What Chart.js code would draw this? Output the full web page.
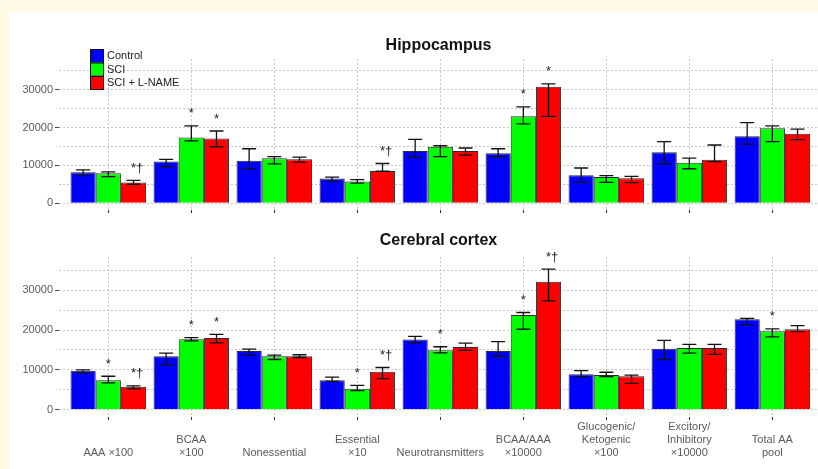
<!DOCTYPE html>
<html>
<head>
<meta charset="utf-8">
<script src="https://cdn.jsdelivr.net/npm/chart.js@4"></script>
<style>
    body { margin: 0; background: #fefae6; overflow: hidden; }
    #sheet { position: absolute; left: 9px; top: 12px; width: 809px; height: 457px; background: #fff; }
    canvas { position: absolute; left: 0; }
</style>
</head>
<body>
<div id="sheet"></div>
<canvas id="hipGrafik" width="818" height="222" style="top:0"></canvas>
<canvas id="ctxGrafik" width="818" height="247" style="top:222px"></canvas>
<script>
const categories = [
    ['', '', 'AAA \u00d7100'],
    ['', 'BCAA', '\u00d7100'],
    ['', '', 'Nonessential'],
    ['', 'Essential', '\u00d710'],
    ['', '', 'Neurotransmitters'],
    ['', 'BCAA/AAA', '\u00d710000'],
    ['Glucogenic/', 'Ketogenic', '\u00d7100'],
    ['Excitory/', 'Inhibitory', '\u00d710000'],
    ['', 'Total AA', 'pool']
];
const seriesNames = ['Control', 'SCI', 'SCI + L-NAME'];
const yTicks = [0, 5000, 10000, 15000, 20000, 25000, 30000, 35000];

// Hippocampus
const hipControl   = [8200, 11000, 11200, 6500, 13800, 13200, 7400, 13500, 17700];
const hipControlLo = [7300, 9600, 9000, 5700, 12100, 12300, 5500, 10400, 15600];
const hipControlHi = [8800, 11600, 14400, 6900, 16900, 14400, 9300, 16300, 21300];
const hipSci       = [7900, 17350, 11900, 5700, 14900, 23000, 6900, 10700, 19800];
const hipSciLo     = [7000, 16500, 10400, 5300, 12300, 21000, 5500, 9100, 16300];
const hipSciHi     = [8300, 20450, 12300, 6200, 15200, 25500, 7300, 11900, 20450];
const hipLname     = [5450, 17100, 11600, 8500, 13800, 30800, 6600, 11500, 18400];
const hipLnameLo   = [5000, 14900, 10850, 8450, 12700, 23000, 5450, 11000, 16800];
const hipLnameHi   = [6000, 19100, 12200, 10500, 14600, 31600, 7100, 15400, 19600];
const hipSciMark   = ['', '*', '', '', '', '*', '', '', ''];
const hipLnameMark = ['*\u2020', '*', '', '*\u2020', '', '*', '', '', ''];

// Cerebral cortex
const ctxControl   = [9750, 13400, 14750, 7400, 17600, 14750, 8900, 15300, 22700];
const ctxControlLo = [9250, 11250, 13700, 7100, 16800, 13400, 8300, 12600, 21300];
const ctxControlHi = [10000, 14200, 15200, 8200, 18400, 17100, 9800, 17400, 22900];
const ctxSci       = [7400, 17700, 13400, 5250, 14900, 23750, 8700, 15500, 19700];
const ctxSciLo     = [6750, 17300, 12600, 4800, 14250, 20200, 8300, 14200, 18300];
const ctxSciHi     = [8400, 18100, 13700, 6100, 15800, 24400, 9400, 16400, 20300];
const ctxLname     = [5750, 18000, 13400, 9500, 15750, 32100, 8400, 15500, 20200];
const ctxLnameLo   = [5250, 16800, 13100, 7800, 14900, 27300, 6600, 13900, 19600];
const ctxLnameHi   = [6000, 18900, 13800, 10600, 16700, 35300, 8700, 16400, 21100];
const ctxSciMark   = ['*', '*', '', '*', '*', '*', '', '', '*'];
const ctxLnameMark = ['*\u2020', '*', '', '*\u2020', '', '*\u2020', '', '', ''];

const FONT = "'Liberation Sans', Arial, sans-serif";
const colors = ['#0000ff', '#00ff00', '#ff0000'];

function makeDataset(i, values, lo, hi, marks) {
    return {
        label: seriesNames[i],
        data: values.map((v, k) => ({ x: k, y: v })),
        errLo: lo,
        errHi: hi,
        marks: marks,
        backgroundColor: colors[i],
        borderColor: '#2a2a2a',
        borderWidth: 1,
        categoryPercentage: 0.91,
        barPercentage: 1.0
    };
}

// error bars + significance marks
const errorBarPlugin = {
    id: 'errorBars',
    afterDatasetsDraw(chart) {
        const ctx = chart.ctx;
        const y = chart.scales.y;
        ctx.save();
        chart.data.datasets.forEach((ds, i) => {
            const meta = chart.getDatasetMeta(i);
            meta.data.forEach((bar, k) => {
                const top = y.getPixelForValue(ds.errHi[k]);
                const bot = y.getPixelForValue(ds.errLo[k]);
                ctx.strokeStyle = '#111';
                ctx.lineWidth = 1.3;
                ctx.beginPath();
                ctx.moveTo(bar.x, top); ctx.lineTo(bar.x, bot);
                ctx.moveTo(bar.x - 7, top); ctx.lineTo(bar.x + 7, top);
                ctx.moveTo(bar.x - 7, bot); ctx.lineTo(bar.x + 7, bot);
                ctx.stroke();
                const m = ds.marks ? ds.marks[k] : '';
                if (m) {
                    ctx.font = '13px ' + FONT;
                    ctx.fillStyle = '#222';
                    ctx.textBaseline = 'middle';
                    ctx.textAlign = 'left';
                    const w = ctx.measureText('*').width;
                    ctx.fillText(m, bar.x - w / 2, top - 12);
                }
            });
        });
        ctx.restore();
    }
};

const panelTitlePlugin = {
    id: 'panelTitle',
    afterDraw(chart, args, opts) {
        const ctx = chart.ctx;
        const area = chart.chartArea;
        ctx.save();
        ctx.font = 'bold 16px ' + FONT;
        ctx.fillStyle = '#111';
        ctx.textAlign = 'center';
        ctx.textBaseline = 'middle';
        ctx.fillText(opts.text, (area.left + area.right) / 2, opts.y);
        if (opts.legend) {
            ctx.font = '11px ' + FONT;
            chart.data.datasets.forEach((ds, i) => {
                const by = 49 + i * 13.5;
                ctx.fillStyle = ds.backgroundColor;
                ctx.fillRect(90, by, 13, 13);
                ctx.strokeStyle = '#111';
                ctx.lineWidth = 1;
                ctx.strokeRect(90.5, by + 0.5, 13, 13);
                ctx.fillStyle = '#222';
                ctx.textAlign = 'left';
                ctx.fillText(ds.label, 107, by + 7);
            });
        }
        ctx.restore();
    }
};

function makeChart(canvasId, datasets, opts) {
    return new Chart(document.getElementById(canvasId).getContext('2d'), {
        type: 'bar',
        data: { datasets: datasets },
        plugins: [errorBarPlugin, panelTitlePlugin],
        options: {
            responsive: false,
            animation: false,
            layout: { padding: { top: opts.padTop, left: 0, right: 0, bottom: 0 } },
            plugins: {
                legend: { display: false },
                tooltip: { enabled: false },
                panelTitle: { text: opts.title, y: opts.titleY, legend: opts.legend }
            },
            scales: {
                x: {
                    type: 'linear',
                    offset: false,
                    min: -0.594,
                    max: 8.55,
                    afterBuildTicks: scale => { scale.ticks = categories.map((c, i) => ({ value: i })); },
                    afterFit: scale => { scale.height = opts.xHeight; },
                    grid: {
                        offset: false,
                        color: '#c6c6c6',
                        tickColor: '#333',
                        tickLength: 3,
                        tickBorderDash: []
                    },
                    border: { display: false, dash: [2, 2] },
                    ticks: {
                        autoSkip: false,
                        maxRotation: 0,
                        padding: 1,
                        color: '#5a5a5a',
                        font: { family: FONT, size: 11, lineHeight: 1.15 },
                        callback: v => opts.showLabels ? categories[v] : ''
                    }
                },
                y: {
                    min: opts.yMin,
                    max: opts.yMax,
                    afterBuildTicks: scale => { scale.ticks = yTicks.map(v => ({ value: v })); },
                    afterFit: scale => { scale.width = 59; },
                    grid: {
                        color: '#c6c6c6',
                        tickColor: c => (c.tick && c.tick.value % 10000 === 0) ? '#444' : 'rgba(0,0,0,0)',
                        tickLength: 4,
                        tickBorderDash: []
                    },
                    border: { display: false, dash: [2, 2] },
                    ticks: {
                        padding: 2,
                        color: '#5a5a5a',
                        font: { family: FONT, size: 11 },
                        callback: v => v % 10000 === 0 ? String(v) : ''
                    }
                }
            }
        }
    });
}

makeChart('hipGrafik', [
    makeDataset(0, hipControl, hipControlLo, hipControlHi, null),
    makeDataset(1, hipSci, hipSciLo, hipSciHi, hipSciMark),
    makeDataset(2, hipLname, hipLnameLo, hipLnameHi, hipLnameMark)
], { padTop: 59, xHeight: 12, yMin: -1820, yMax: 38170, title: 'Hippocampus', titleY: 46, legend: true, showLabels: false });

makeChart('ctxGrafik', [
    makeDataset(0, ctxControl, ctxControlLo, ctxControlHi, null),
    makeDataset(1, ctxSci, ctxSciLo, ctxSciHi, ctxSciMark),
    makeDataset(2, ctxLname, ctxLnameLo, ctxLnameHi, ctxLnameMark)
], { padTop: 35, xHeight: 52, yMin: -1825, yMax: 38325, title: 'Cerebral cortex', titleY: 19, legend: false, showLabels: true });
</script>
</body>
</html>
